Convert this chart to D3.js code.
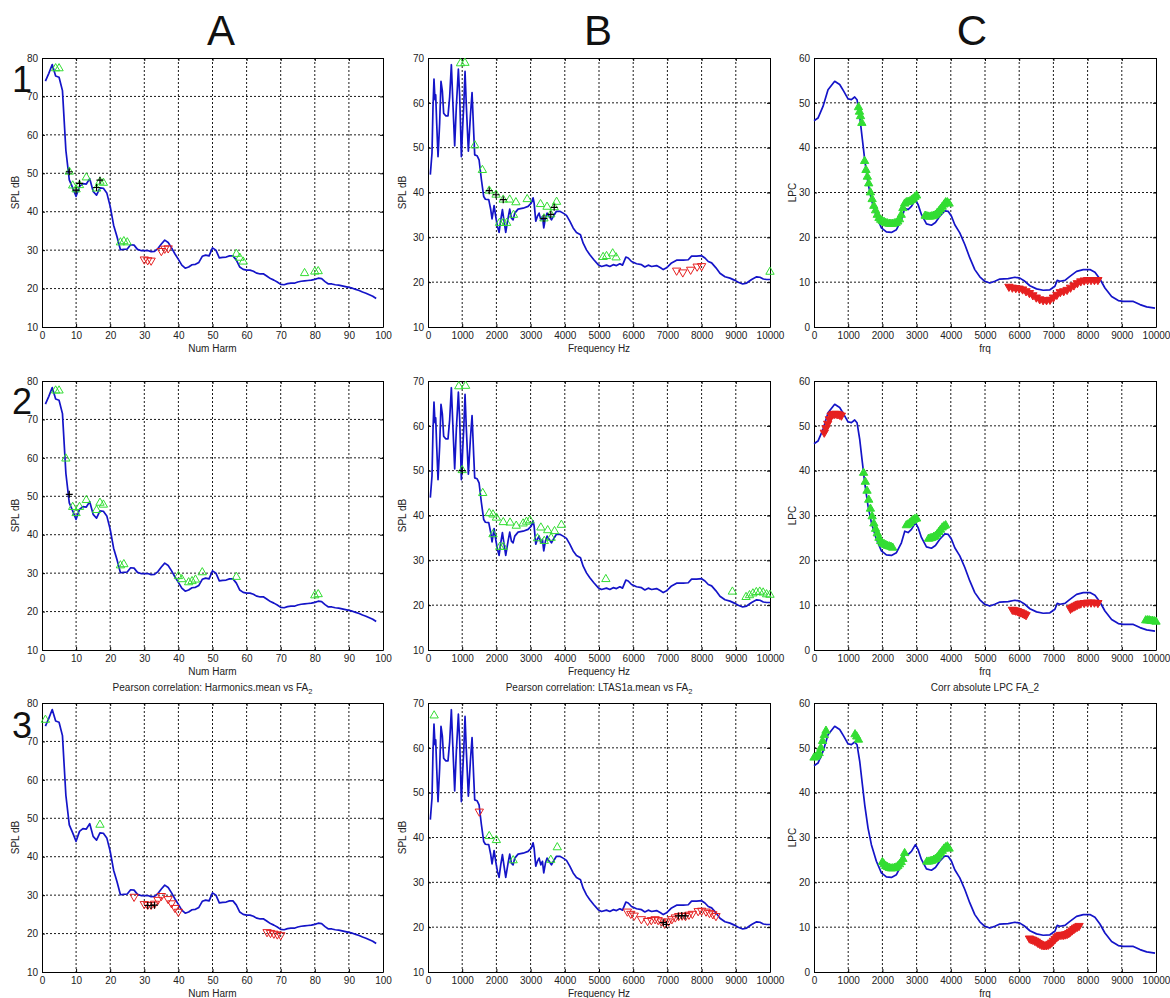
<!DOCTYPE html>
<html>
<head>
<meta charset="utf-8">
<script src="https://cdn.jsdelivr.net/npm/d3@7"></script>
<style>
  body { margin: 0; background: #fff; }
  svg { font-family: "Liberation Sans", Arial, sans-serif; }
</style>
</head>
<body>
<svg id="fig" width="1170" height="998"></svg>
<script>
// ---- curves (same line in every row of a column) ----
const harmNum = d3.range(1, 99)
const harmSpl = [74, 76, 78.3, 75.3, 75, 71.5, 56, 48.3, 46.2, 44, 46.6, 47.3, 47.2, 48.6, 45.3, 44.3, 46.2, 46.1, 44.9, 41.4,
  36.5, 33.5, 30.1, 30.2, 30.3, 31.4, 31.3, 30.2, 29.9, 29.9, 29.9, 29.6, 29.7, 30.4, 31.6, 32.6, 32, 30.6, 29, 27.6,
  26.1, 25.3, 25.6, 26.2, 26.3, 26.8, 28.4, 28.7, 28.5, 30.6, 30, 28, 28.1, 28.2, 28.5, 28.5, 27.4, 25.6, 25, 24.8,
  24.8, 24.5, 24, 23.8, 23.8, 23.2, 22.6, 22.2, 21.7, 21.1, 21, 21.3, 21.4, 21.4, 21.7, 21.9, 22, 22.1, 22.2, 22.4,
  22.7, 22.6, 21.8, 21.2, 21.2, 21, 20.9, 20.7, 20.5, 20.3, 20.1, 19.8, 19.5, 19.1, 18.8, 18.4, 18, 17.4]

const ltasFreq = [68, 117, 146, 175, 205, 225, 254, 293, 341, 380, 420, 458, 517, 585, 634, 683, 732, 780, 829, 888,
  927, 976, 1015, 1044, 1083, 1122, 1180, 1239, 1288, 1337, 1366, 1434, 1493, 1561, 1629, 1678, 1776, 1834, 1873, 1932,
  1980, 2029, 2078, 2127, 2176, 2224, 2273, 2341, 2390, 2439, 2488, 2537, 2634, 2780, 2927, 3024, 3073, 3102, 3151, 3200,
  3249, 3298, 3346, 3385, 3434, 3483, 3541, 3610, 3688, 3756, 3854, 3951, 4049, 4146, 4244, 4341, 4459, 4537, 4634, 4732,
  4849, 4976, 5073, 5220, 5317, 5415, 5512, 5610, 5688, 5785, 5854, 5951, 6098, 6244, 6341, 6439, 6537, 6683, 6800, 6878,
  6976, 7122, 7268, 7463, 7610, 7707, 7854, 8000, 8098, 8195, 8293, 8420, 8537, 8683, 8829, 8976, 9073, 9200, 9317, 9463,
  9610, 9707, 9805, 9902, 10000]
const ltasSpl = [44, 48.8, 59, 65.3, 60.7, 61.8, 55.5, 48, 55.5, 64.8, 62.6, 57.7, 57.1, 57.1, 61.4, 68.5, 59.2, 50.4, 59.2, 67.5,
  61.4, 48, 54.8, 59.2, 67, 59.2, 49.2, 57, 62.3, 53.3, 48.4, 48.2, 47.3, 42.9, 39.1, 38.5, 38.4, 36.2, 34.1, 37.1,
  34.7, 32.5, 31.1, 33.9, 36.2, 33.6, 31.1, 34.3, 36.3, 34.3, 33.9, 35.4, 36.3, 36.5, 36.9, 37.7, 38.8, 37.7, 33.6, 34.7,
  35.4, 33.9, 34.7, 32.1, 34.3, 35.4, 34.7, 33.9, 35, 35.8, 35.8, 35.4, 34.9, 33.6, 32.1, 31.1, 30.6, 28.7, 27.2, 26.1,
  25, 23.9, 23.5, 23.8, 23.5, 23.9, 23.7, 24.1, 23.8, 25.6, 25.4, 24.6, 24.1, 23.9, 23.4, 23.8, 23.5, 23.7, 23.2, 22.8,
  23.2, 24.3, 24.9, 24.9, 25, 25.8, 25.8, 25.9, 25.4, 24.6, 24.3, 23.2, 22, 21.2, 20.9, 20.4, 20, 19.6, 19.8, 20.6,
  21.2, 21.1, 20.7, 20.6, 20.6]

const lpcFreq = [0, 117, 263, 410, 605, 751, 868, 995, 1093, 1190, 1258, 1337, 1415, 1483, 1580, 1678, 1824, 1971, 2117, 2263,
  2410, 2556, 2654, 2751, 2849, 2966, 3044, 3141, 3288, 3434, 3551, 3678, 3824, 3922, 4020, 4117, 4263, 4410, 4556, 4702,
  4849, 4995, 5141, 5288, 5434, 5678, 5873, 6020, 6166, 6312, 6507, 6702, 6898, 7044, 7112, 7190, 7337, 7483, 7678, 7873,
  8068, 8215, 8361, 8507, 8702, 8898, 9044, 9337, 9532, 9727, 9971]
const lpcVal = [46, 46.6, 49.2, 52.9, 54.8, 54.1, 52.6, 50.9, 50.7, 51.3, 50.7, 47, 41.8, 37.3, 32.1, 28.4, 24.7, 22.1, 21.2, 21.1,
  21.7, 23.9, 26.5, 26.2, 26.9, 28.4, 27.3, 25.1, 23, 22.7, 23.3, 24.7, 25.9, 25.8, 24.7, 22.8, 21, 18.4, 15.4, 12.8,
  11.2, 10.2, 9.8, 10.2, 10.7, 10.8, 11.1, 10.9, 10.2, 9.2, 8.5, 8.2, 8.3, 9.1, 10.4, 10.2, 10.4, 11.3, 12.4, 12.8,
  12.8, 12.2, 10.7, 8.7, 6.8, 5.9, 5.7, 5.7, 5, 4.5, 4.2]

// ---- ticks ----
const harmTicks = [0, 10, 20, 30, 40, 50, 60, 70, 80, 90, 100]
const freqTicks = [0, 1000, 2000, 3000, 4000, 5000, 6000, 7000, 8000, 9000, 10000]
const harmYTicks = [10, 20, 30, 40, 50, 60, 70, 80]
const ltasYTicks = [10, 20, 30, 40, 50, 60, 70]
const lpcYTicks = [0, 10, 20, 30, 40, 50, 60]

const colLetters = ['A', 'B', 'C']
const rowDigits = ['1', '2', '3']
const xLabels = ['Num Harm', 'Frequency Hz', 'frq']
const yLabels = ['SPL dB', 'SPL dB', 'LPC']
const row3Titles = [['Pearson correlation: Harmonics.mean vs FA', '2'],
  ['Pearson correlation: LTAS1a.mean vs FA', '2'], ['Corr absolute LPC FA_2', '']]

// ---- markers: up = positive (green), down = negative (red), plus = significant ----
const a1Up = [[4, 77.3], [5, 77.3], [8, 50.4], [9, 46.8], [10, 45.8], [11, 46.9], [13, 48.9], [16, 46], [17, 47.8], [18, 47.5],
  [23, 32], [24, 32.3], [25, 32], [57, 29], [58, 28], [59, 27], [77, 24], [80, 24.4], [81, 24.5]]
const a1Down = [[30, 27.6], [31, 27.4], [32, 27.3], [35, 29.8], [36, 30.4], [37, 30.5]]
const a1Plus = [[8, 50.4], [10, 45.6], [11, 47.4], [16, 46.3], [17, 48.2]]

const a2Up = [[4, 77.5], [5, 77.5], [7, 59.8], [9, 47.2], [10, 45.6], [11, 47.2], [13, 49], [16, 46.4], [17, 48.3], [18, 47.8],
  [23, 32], [24, 32.3], [40, 29.2], [41, 28.4], [43, 27.6], [44, 27.9], [45, 28.3], [47, 30.2], [57, 29], [80, 24.2], [81, 24.5]]
const a2Down = []
const a2Plus = [[8, 50.5]]

const a3Up = [[1, 75.6], [17, 48.3]]
const a3Down = [[27, 29.6], [30, 27.7], [31, 27.5], [32, 27.5], [33, 27.8], [34, 28.8], [35, 29.8], [37, 29], [38, 27.9],
  [39, 26.7], [40, 25.7], [66, 20.4], [67, 20.2], [68, 20], [69, 19.8], [70, 19.6]]
const a3Plus = [[31, 27.3], [32, 27.3], [33, 27.4]]

const b1Up = [[950, 68.8], [1080, 68.9], [1370, 50.5], [1590, 45], [1790, 40.4], [1990, 39.5], [2200, 38.4],
  [2090, 33.2], [2200, 33.2], [2300, 33.2], [2390, 38.4], [2500, 35], [2570, 37.8], [2900, 38.5], [3290, 37.4], [3480, 36.8],
  [3390, 34.2], [3590, 35.1], [3690, 36.7], [3760, 37.9], [5120, 25.6], [5220, 25.8], [5400, 26.4], [5500, 25.5], [10000, 22.3]]
const b1Down = [[7270, 22.6], [7450, 22.2], [7680, 22.8], [7870, 23.5], [8000, 23.6]]
const b1Plus = [[1790, 40.4], [1990, 39.5], [2200, 38.4], [3390, 34.2], [3590, 35.1], [3690, 36.7]]

const b2Up = [[900, 68.8], [1100, 68.9], [1000, 50.1], [1600, 45], [1790, 40.5], [1900, 40.2], [2000, 39.5], [2200, 38.5],
  [2400, 38.4], [2580, 37.7], [2780, 38.2], [2880, 38.6], [2980, 38.9], [3300, 37.3], [3500, 36.7], [3700, 36.5], [3900, 37.9],
  [1900, 35.8], [2100, 33], [2200, 33], [3200, 34.9], [3400, 34.3], [3600, 35], [5200, 25.8], [8900, 23], [9300, 21.8],
  [9400, 22.2], [9500, 22.6], [9600, 22.9], [9700, 23], [9800, 22.8], [9900, 22.4], [10000, 22.3]]
const b2Down = []
const b2Plus = [[1000, 50]]

const b3Up = [[180, 67.2], [1790, 40.3], [2000, 39.4], [2490, 34.9], [3590, 35], [3780, 37.8]]
const b3Down = [[1500, 45.8], [5830, 23.5], [5930, 23], [6030, 22.6], [6240, 21.8], [6420, 21.4], [6530, 21.6], [6640, 21.8],
  [6730, 21.6], [6820, 21.3], [6920, 20.8], [7030, 21.3], [7130, 21.8], [7230, 22.2], [7330, 22.5], [7430, 22.6], [7530, 22.5],
  [7630, 22.8], [7730, 23], [7900, 23.6], [8000, 23.7], [8130, 23.5], [8230, 23.2], [8330, 22.9], [8420, 22.5]]
const b3Plus = [[6880, 21], [6970, 20.6], [7320, 22.5], [7420, 22.6], [7520, 22.5]]

const c1Up = [[1300, 49], [1330, 48], [1360, 47], [1400, 45.5], [1480, 37], [1520, 35], [1560, 33.5], [1600, 32], [1650, 30],
  [1700, 28.5], [1750, 27], [1800, 26], [1850, 25], [1900, 24.3], [1950, 23.9], [2000, 23.6], [2050, 23.4], [2100, 23.2],
  [2150, 23.1], [2200, 23], [2250, 23], [2300, 23], [2350, 23.1], [2400, 23.2], [2450, 23.5], [2500, 24], [2550, 25],
  [2600, 26.5], [2650, 27.5], [2700, 27.8], [2750, 27.9], [2800, 28], [2850, 28.3], [2900, 28.6], [2950, 29], [3000, 29.3],
  [3250, 24.8], [3300, 24.7], [3350, 24.6], [3400, 24.6], [3450, 24.7], [3500, 24.8], [3550, 25], [3600, 25.4], [3650, 25.8],
  [3700, 26.3], [3750, 26.8], [3800, 27.3], [3850, 27.8], [3900, 27.8], [3950, 27.5]]
const c1Down = [[5700, 9], [5800, 8.8], [5900, 8.7], [6000, 8.6], [6100, 8.4], [6200, 8], [6300, 7.6], [6400, 7.1],
  [6500, 6.6], [6600, 6.2], [6700, 6], [6800, 6], [6900, 6.1], [7000, 6.6], [7100, 7.2], [7200, 7.8], [7300, 8], [7400, 8.3],
  [7500, 8.8], [7600, 9.3], [7700, 9.8], [7800, 10.2], [7900, 10.4], [8000, 10.5], [8100, 10.5], [8200, 10.5], [8300, 10.5]]
const c1Plus = []

const c2Up = [[1450, 39.5], [1500, 37.5], [1550, 35.5], [1600, 33.5], [1650, 31.5], [1700, 29.8], [1750, 28.2], [1800, 27],
  [1850, 26], [1900, 25], [1950, 24.3], [2000, 23.8], [2050, 23.6], [2100, 23.4], [2150, 23.2], [2200, 23.1], [2250, 23],
  [2300, 22.8], [2700, 27.8], [2750, 28], [2800, 28.3], [2850, 28.7], [2900, 29], [2950, 29.2], [3000, 29.3],
  [3350, 24.8], [3400, 24.9], [3450, 25], [3500, 25.2], [3550, 25.4], [3600, 25.8], [3650, 26.3], [3700, 26.8], [3750, 27.3],
  [3800, 27.6], [3850, 27.8], [9700, 6.6], [9750, 6.6], [9800, 6.6], [9850, 6.5], [9900, 6.5], [9950, 6.4], [10000, 6.3]]
const c2Down = [[300, 48.5], [350, 49.5], [400, 50.5], [450, 51.5], [500, 52.3], [550, 52.6], [600, 52.7], [650, 52.7],
  [700, 52.6], [750, 52.5], [800, 52.3], [5800, 9], [5850, 8.9], [5900, 8.8], [5950, 8.7], [6000, 8.5], [6050, 8.4],
  [6100, 8.2], [6150, 8], [6200, 7.8], [7500, 9.2], [7550, 9.5], [7600, 9.7], [7650, 9.9], [7700, 10.1], [7750, 10.3],
  [7800, 10.4], [7900, 10.5], [8000, 10.6], [8100, 10.6], [8200, 10.6], [8300, 10.5]]
const c2Plus = []

const c3Up = [[0, 47.8], [50, 48], [100, 48.3], [150, 48.8], [200, 50], [250, 51.5], [300, 52.8], [350, 53.8],
  [1200, 53], [1250, 52.5], [1300, 51.8], [2000, 24.5], [2050, 24], [2100, 23.6], [2150, 23.4], [2200, 23.2], [2250, 23.1],
  [2300, 23.1], [2350, 23.2], [2400, 23.3], [2450, 23.6], [2500, 24], [2550, 24.5], [2600, 25.2], [2650, 26.5],
  [3300, 24.6], [3350, 24.6], [3400, 24.7], [3450, 24.8], [3500, 25], [3550, 25.2], [3600, 25.5], [3650, 26], [3700, 26.5],
  [3750, 27], [3800, 27.5], [3850, 27.8], [3900, 28], [3950, 27.5]]
const c3Down = [[6300, 7.5], [6350, 7.3], [6400, 7.2], [6450, 7], [6500, 6.8], [6550, 6.5], [6600, 6.3], [6650, 6.1],
  [6700, 6], [6750, 6], [6800, 6], [6850, 6.1], [6900, 6.3], [6950, 6.6], [7000, 7], [7050, 7.4], [7100, 7.8], [7150, 8.1],
  [7200, 8.3], [7250, 8.3], [7300, 8.3], [7350, 8.4], [7400, 8.5], [7450, 8.7], [7500, 9], [7550, 9.3], [7600, 9.6],
  [7650, 9.9], [7700, 10.1], [7750, 10.3]]
const c3Plus = []

const markers = [
  [[a1Up, a1Down, a1Plus], [b1Up, b1Down, b1Plus], [c1Up, c1Down, c1Plus]],
  [[a2Up, a2Down, a2Plus], [b2Up, b2Down, b2Plus], [c2Up, c2Down, c2Plus]],
  [[a3Up, a3Down, a3Plus], [b3Up, b3Down, b3Plus], [c3Up, c3Down, c3Plus]]
]

// ---- layout ----
const COLS = [{ left: 42, right: 383, ylab: 19, letter: 221 }, { left: 428, right: 770, ylab: 406, letter: 598 },
  { left: 814, right: 1156, ylab: 796, letter: 972 }]
const ROW_TOP = [58, 381, 703]
const ROW_BASE = [92, 414, 738]
const PH = 269
const BLUE = '#1414c8'
const GREEN = '#33dd33'
const RED = '#e62020'

const colSpec = [
  { xd: [0, 100], yd: [10, 80], xt: harmTicks, yt: harmYTicks, xs: harmNum, ys: harmSpl, dense: false },
  { xd: [0, 10000], yd: [10, 70], xt: freqTicks, yt: ltasYTicks, xs: ltasFreq, ys: ltasSpl, dense: false },
  { xd: [0, 10000], yd: [0, 60], xt: freqTicks, yt: lpcYTicks, xs: lpcFreq, ys: lpcVal, dense: true }
]

const svg = d3.select('#fig')

const triUp = d3.symbol(d3.symbolTriangle, 30)()
const plusPath = 'M-3.5,0H3.5M0,-3.5V3.5'
const fmt = d3.format('d')

colLetters.forEach(function (l, c) {
  svg.append('text').text(l)
    .attr('x', COLS[c].letter)
    .attr('y', 45)
    .attr('text-anchor', 'middle')
    .attr('font-size', 42)
    .attr('fill', '#111')
})

for (let r = 0; r < 3; r++) {
  for (let c = 0; c < 3; c++) {
    const spec = colSpec[c]
    const L = COLS[c].left
    const R = COLS[c].right
    const T = ROW_TOP[r]
    const B = T + PH

    const x = d3.scaleLinear().domain(spec.xd).range([L, R])
    const y = d3.scaleLinear().domain(spec.yd).range([B, T])

    const g = svg.append('g')

    // dotted grid
    g.selectAll('.gx').data(spec.xt.slice(1, -1)).enter().append('line')
      .attr('x1', d => x(d)).attr('x2', d => x(d)).attr('y1', T).attr('y2', B)
      .attr('stroke', '#000').attr('stroke-dasharray', '2,2').attr('stroke-width', 0.9)
    g.selectAll('.gy').data(spec.yt.slice(1, -1)).enter().append('line')
      .attr('y1', d => y(d)).attr('y2', d => y(d)).attr('x1', L).attr('x2', R)
      .attr('stroke', '#000').attr('stroke-dasharray', '2,2').attr('stroke-width', 0.9)

    // axes
    g.append('g').attr('transform', 'translate(0,' + B + ')')
      .call(d3.axisBottom(x).tickValues(spec.xt).tickFormat(fmt).tickSizeInner(-3).tickSizeOuter(0).tickPadding(5))
    g.append('g').attr('transform', 'translate(' + L + ',0)')
      .call(d3.axisLeft(y).tickValues(spec.yt).tickFormat(fmt).tickSizeInner(-3).tickSizeOuter(0).tickPadding(4))
    g.append('g').attr('transform', 'translate(0,' + T + ')')
      .call(d3.axisTop(x).tickValues(spec.xt).tickSizeInner(-3).tickSizeOuter(0).tickFormat(''))
    g.append('g').attr('transform', 'translate(' + R + ',0)')
      .call(d3.axisRight(y).tickValues(spec.yt).tickSizeInner(-3).tickSizeOuter(0).tickFormat(''))
    g.selectAll('.domain').attr('stroke', '#000')
    g.selectAll('.tick line').attr('stroke', '#000')
    g.selectAll('.tick text').attr('font-size', 10).attr('fill', '#222').attr('font-family', '"Liberation Sans", Arial, sans-serif')

    // labels
    g.append('text').text(xLabels[c])
      .attr('x', (L + R) / 2).attr('y', B + 25)
      .attr('text-anchor', 'middle').attr('font-size', 10).attr('fill', '#222')
    g.append('text').text(yLabels[c])
      .attr('transform', 'translate(' + COLS[c].ylab + ',' + (T + B) / 2 + ') rotate(-90)')
      .attr('text-anchor', 'middle').attr('font-size', 10).attr('fill', '#222')

    if (r === 2) {
      const t = g.append('text')
        .attr('x', (L + R) / 2).attr('y', T - 12)
        .attr('text-anchor', 'middle').attr('font-size', 10).attr('fill', '#222')
      t.append('tspan').text(row3Titles[c][0])
      if (row3Titles[c][1]) t.append('tspan').text(row3Titles[c][1]).attr('font-size', 7.5).attr('dy', 3)
    }

    // curve
    const line = d3.line().x(d => x(d[0])).y(d => y(d[1]))
    g.append('path')
      .datum(d3.zip(spec.xs, spec.ys))
      .attr('d', line)
      .attr('fill', 'none').attr('stroke', BLUE).attr('stroke-width', 1.7)
      .attr('stroke-linejoin', 'round')

    const m = markers[r][c]
    g.selectAll('.up').data(m[0]).enter().append('path')
      .attr('d', triUp)
      .attr('transform', d => 'translate(' + x(d[0]) + ',' + y(d[1]) + ')')
      .attr('fill', spec.dense ? GREEN : 'none').attr('stroke', GREEN).attr('stroke-width', 1)
    g.selectAll('.down').data(m[1]).enter().append('path')
      .attr('d', triUp)
      .attr('transform', d => 'translate(' + x(d[0]) + ',' + y(d[1]) + ') rotate(180)')
      .attr('fill', spec.dense ? RED : 'none').attr('stroke', RED).attr('stroke-width', 1)
    g.selectAll('.plus').data(m[2]).enter().append('path')
      .attr('d', plusPath)
      .attr('transform', d => 'translate(' + x(d[0]) + ',' + y(d[1]) + ')')
      .attr('fill', 'none').attr('stroke', '#000').attr('stroke-width', 1.2)
  }
}

rowDigits.forEach(function (d, r) {
  svg.append('text').text(d)
    .attr('x', 12).attr('y', ROW_BASE[r])
    .attr('font-size', 36).attr('fill', '#111')
})
</script>
</body>
</html>
